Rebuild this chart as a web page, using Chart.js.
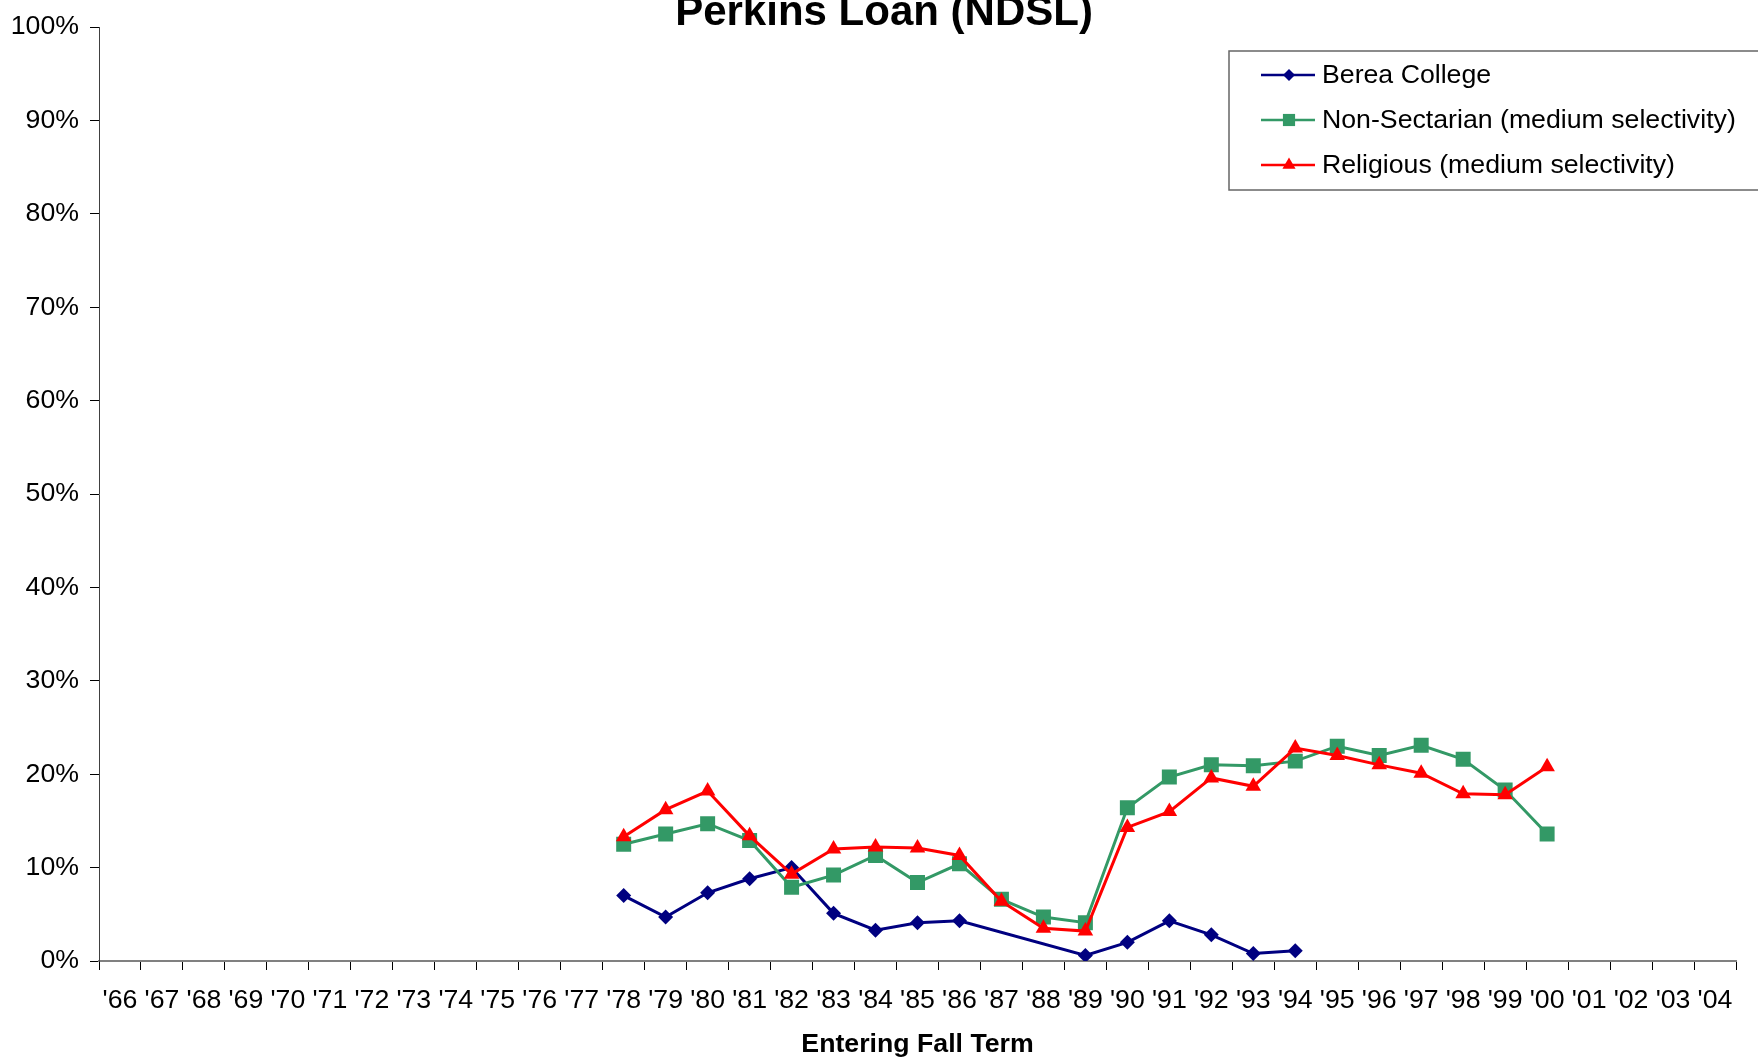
<!DOCTYPE html>
<html>
<head>
<meta charset="utf-8">
<script src="https://cdn.jsdelivr.net/npm/chart.js@4/dist/chart.umd.min.js"></script>
<style>
  body { margin: 0; background: #fff; }
  canvas { display: block; }
</style>
</head>
<body>
<canvas id="myChart" width="1758" height="1058"></canvas>
<script>
const years = ["'66", "'67", "'68", "'69", "'70", "'71", "'72", "'73", "'74", "'75", "'76", "'77",
  "'78", "'79", "'80", "'81", "'82", "'83", "'84", "'85", "'86", "'87", "'88", "'89", "'90",
  "'91", "'92", "'93", "'94", "'95", "'96", "'97", "'98", "'99", "'00", "'01", "'02", "'03", "'04"];

// '66 - '77 have no data
const berea = [null, null, null, null, null, null, null, null, null, null, null, null,
  7.0, 4.7, 7.3, 8.8, 10.0, 5.1, 3.3, 4.1, 4.3, null, null, 0.6, 2.0,
  4.3, 2.8, 0.8, 1.1, null, null, null, null, null, null, null, null, null, null];

const nonSectarian = [null, null, null, null, null, null, null, null, null, null, null, null,
  12.5, 13.6, 14.7, 12.9, 7.9, 9.2, 11.3, 8.4, 10.4, 6.6, 4.7, 4.1, 16.4,
  19.7, 21.0, 20.9, 21.4, 23.0, 22.0, 23.1, 21.6, 18.3, 13.6, null, null, null, null];

const religious = [null, null, null, null, null, null, null, null, null, null, null, null,
  13.3, 16.2, 18.2, 13.4, 9.3, 12.0, 12.2, 12.1, 11.3, 6.4, 3.5, 3.2, 14.3,
  16.0, 19.6, 18.7, 22.8, 22.0, 21.0, 20.1, 17.9, 17.8, 20.8, null, null, null, null];

const chartTitle = "Perkins Loan (NDSL)";
const xTitle = "Entering Fall Term";
const FONT = '"Liberation Sans", Arial, sans-serif';

// legend markers are a bit smaller than the ones on the lines
const legendRadius = [6, 8.6, 7.6];

// title + boxed legend like the excel chart
const extras = {
  id: "extras",
  afterDraw(chart) {
    const ctx = chart.ctx;
    ctx.save();
    ctx.fillStyle = "#000";
    ctx.font = "bold 42px " + FONT;
    ctx.textAlign = "center";
    ctx.textBaseline = "alphabetic";
    ctx.fillText(chartTitle, 884, 25);

    ctx.fillStyle = "#fff";
    ctx.fillRect(1229, 51, 540, 139);
    ctx.strokeStyle = "#666";
    ctx.lineWidth = 1.5;
    ctx.strokeRect(1229, 51, 540, 139);

    const rowY = [75, 120, 165];
    chart.data.datasets.forEach((ds, i) => {
      const y = rowY[i];
      ctx.strokeStyle = ds.borderColor;
      ctx.lineWidth = 2.4;
      ctx.beginPath();
      ctx.moveTo(1261, y);
      ctx.lineTo(1315, y);
      ctx.stroke();
      ctx.fillStyle = ds.backgroundColor;
      ctx.strokeStyle = ds.borderColor;
      Chart.helpers.drawPoint(ctx, {
        pointStyle: ds.pointStyle,
        radius: legendRadius[i],
        rotation: 0,
        borderWidth: 0
      }, 1289, y);
      ctx.fillStyle = "#000";
      ctx.font = "26.7px " + FONT;
      ctx.textAlign = "left";
      ctx.textBaseline = "middle";
      ctx.fillText(ds.label, 1322, y + 1);
    });
    ctx.restore();
  }
};

function renderChart() {
  const ctx = document.getElementById("myChart");

  new Chart(ctx, {
    type: "line",
    data: {
      labels: years,
      datasets: [
        {
          label: "Berea College",
          data: berea,
          borderColor: "#000080",
          backgroundColor: "#000080",
          borderWidth: 3,
          pointStyle: "rectRot",
          pointRadius: 7.5,
          pointBorderWidth: 0,
          order: 3
        },
        {
          label: "Non-Sectarian (medium selectivity)",
          data: nonSectarian,
          borderColor: "#339966",
          backgroundColor: "#339966",
          borderWidth: 3,
          pointStyle: "rect",
          pointRadius: 10.6,
          pointBorderWidth: 0,
          order: 2
        },
        {
          label: "Religious (medium selectivity)",
          data: religious,
          borderColor: "#ff0000",
          backgroundColor: "#ff0000",
          borderWidth: 3,
          pointStyle: "triangle",
          pointRadius: 9,
          pointBorderWidth: 0,
          order: 1
        }
      ]
    },
    options: {
      responsive: false,
      animation: false,
      devicePixelRatio: 1,
      spanGaps: true,
      layout: { padding: { top: 20, right: 22, bottom: 0, left: 0 } },
      plugins: {
        legend: { display: false },
        title: { display: false },
        tooltip: { enabled: false }
      },
      scales: {
        x: {
          offset: true,
          grid: {
            offset: true,
            drawOnChartArea: false,
            drawTicks: true,
            tickLength: 9,
            color: "#000",
            lineWidth: 1
          },
          border: { color: "#808080", width: 2 },
          ticks: {
            autoSkip: false,
            maxRotation: 0,
            padding: 15,
            color: "#000",
            font: { family: FONT, size: 26.7 }
          },
          title: {
            display: true,
            text: xTitle,
            color: "#000",
            padding: { top: 0, bottom: -3 },
            font: { family: FONT, size: 26.7, weight: "bold" }
          },
          afterFit(scale) { scale.height = 97; }
        },
        y: {
          min: 0,
          max: 100,
          grid: {
            drawOnChartArea: false,
            drawTicks: true,
            tickLength: 9,
            color: "#000",
            lineWidth: 1
          },
          border: { color: "#404040", width: 1 },
          ticks: {
            stepSize: 10,
            padding: 11,
            color: "#000",
            font: { family: FONT, size: 26.7 },
            callback: (v) => v + "%"
          },
          afterFit(scale) { scale.width = 99; }
        }
      }
    },
    plugins: [extras]
  });
}

renderChart();
</script>
</body>
</html>
